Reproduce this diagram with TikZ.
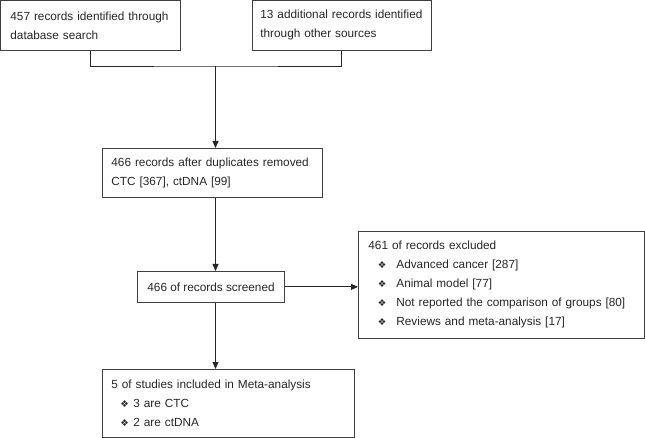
\documentclass[tikz,border=0pt]{standalone}
\usepackage{fontspec}
\setmainfont{Liberation Sans}
\newfontfamily\symfont{DejaVu Sans}
\usepackage{tikz}
\usetikzlibrary{positioning, arrows.meta}

\newcommand{\dbul}[2]{\hspace*{#1}\makebox[#2][l]{\symfont\fontsize{9.5}{9.5}\selectfont ❖}}

\begin{document}
\begin{tikzpicture}[x=1pt, y=-1pt,
  box/.style={draw=black!75, line width=0.8pt, anchor=north west, inner xsep=10pt, inner ysep=0pt, align=left, font=\fontsize{11.8}{19}\selectfont, text=black!85},
  flow/.style={draw=black!85, line width=0.8pt, -{Triangle[length=7pt,width=6pt]}}]
\useasboundingbox (0,0) rectangle (645,438);

% --- Sources ---
\node[box, minimum width=180pt, minimum height=50pt, text width=160pt] (dbase) at (0,0) {457 records identified through\\database search};
\node[box, inner xsep=8.5pt, minimum width=179.5pt, minimum height=50pt, text width=162.5pt] (other) at (251.5,0) {13 additional records identified\\through other sources};

% --- Duplicates removed ---
\node[box, inner xsep=9pt, minimum width=220pt, minimum height=49.5pt, text width=202pt] (dedup) at (102,148) {466 records after duplicates removed\\CTC [367], ctDNA [99]};

% --- Screened ---
\node[box, align=center, minimum width=146pt, minimum height=31pt] (screen) at (137,271) {466 of records screened};

% --- Excluded ---
\node[box, minimum width=286pt, minimum height=107pt, text width=266pt] (excl) at (358,231) {461 of records excluded\\
\dbul{9.5pt}{18.5pt}Advanced cancer [287]\\
\dbul{9.5pt}{18.5pt}Animal model [77]\\
\dbul{9.5pt}{18.5pt}Not reported the comparison of groups [80]\\
\dbul{9.5pt}{18.5pt}Reviews and meta-analysis [17]};

% --- Included ---
\node[box, inner xsep=9pt, minimum width=252pt, minimum height=67.5pt, text width=234pt] (incl) at (102,369) {5 of studies included in Meta-analysis\\
\dbul{9pt}{13pt}3 are CTC\\
\dbul{9pt}{13pt}2 are ctDNA};

% --- Connectors ---
\coordinate (join) at (215.5,66);
\draw[draw=black!85, line width=0.8pt] (dbase.south) |- (join) -| (other.south);
\draw[flow] (join) -- (join |- dedup.north);
\draw[flow] (dedup.south -| join) -- (join |- screen.north);
\draw[flow] (screen.east) -- (screen.east -| excl.west);
\draw[flow] (screen.south -| join) -- (join |- incl.north);
\end{tikzpicture}
\end{document}
